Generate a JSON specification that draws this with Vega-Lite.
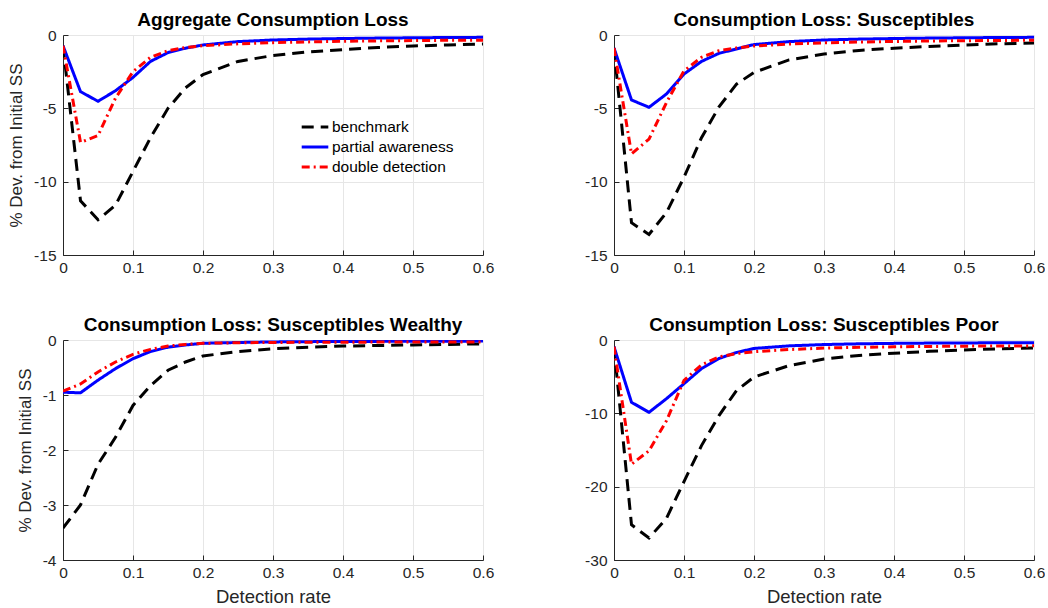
{
  "$schema": "https://vega.github.io/schema/vega-lite/v6.json",
  "padding": {"left": 7, "top": 11, "right": 0, "bottom": 0},
  "datasets": {
    "pts": [
      {"panel": "A", "series": "benchmark", "x": 0, "y": -0.73},
      {"panel": "A", "series": "benchmark", "x": 0.025, "y": -11.3},
      {"panel": "A", "series": "benchmark", "x": 0.05, "y": -12.6},
      {"panel": "A", "series": "benchmark", "x": 0.075, "y": -11.6},
      {"panel": "A", "series": "benchmark", "x": 0.1, "y": -9.3},
      {"panel": "A", "series": "benchmark", "x": 0.125, "y": -7.0},
      {"panel": "A", "series": "benchmark", "x": 0.15, "y": -5.0},
      {"panel": "A", "series": "benchmark", "x": 0.175, "y": -3.6},
      {"panel": "A", "series": "benchmark", "x": 0.2, "y": -2.7},
      {"panel": "A", "series": "benchmark", "x": 0.25, "y": -1.8},
      {"panel": "A", "series": "benchmark", "x": 0.3, "y": -1.4},
      {"panel": "A", "series": "benchmark", "x": 0.35, "y": -1.15},
      {"panel": "A", "series": "benchmark", "x": 0.4, "y": -1.0},
      {"panel": "A", "series": "benchmark", "x": 0.45, "y": -0.85},
      {"panel": "A", "series": "benchmark", "x": 0.5, "y": -0.75},
      {"panel": "A", "series": "benchmark", "x": 0.55, "y": -0.68},
      {"panel": "A", "series": "benchmark", "x": 0.6, "y": -0.62},
      {"panel": "A", "series": "partial awareness", "x": 0, "y": -0.73},
      {"panel": "A", "series": "partial awareness", "x": 0.025, "y": -3.86},
      {"panel": "A", "series": "partial awareness", "x": 0.05, "y": -4.52},
      {"panel": "A", "series": "partial awareness", "x": 0.075, "y": -3.8},
      {"panel": "A", "series": "partial awareness", "x": 0.1, "y": -2.89},
      {"panel": "A", "series": "partial awareness", "x": 0.125, "y": -1.8},
      {"panel": "A", "series": "partial awareness", "x": 0.15, "y": -1.2},
      {"panel": "A", "series": "partial awareness", "x": 0.175, "y": -0.9},
      {"panel": "A", "series": "partial awareness", "x": 0.2, "y": -0.68},
      {"panel": "A", "series": "partial awareness", "x": 0.25, "y": -0.45},
      {"panel": "A", "series": "partial awareness", "x": 0.3, "y": -0.34},
      {"panel": "A", "series": "partial awareness", "x": 0.35, "y": -0.28},
      {"panel": "A", "series": "partial awareness", "x": 0.4, "y": -0.24},
      {"panel": "A", "series": "partial awareness", "x": 0.45, "y": -0.21},
      {"panel": "A", "series": "partial awareness", "x": 0.5, "y": -0.19},
      {"panel": "A", "series": "partial awareness", "x": 0.55, "y": -0.17},
      {"panel": "A", "series": "partial awareness", "x": 0.6, "y": -0.16},
      {"panel": "A", "series": "double detection", "x": 0, "y": -0.73},
      {"panel": "A", "series": "double detection", "x": 0.025, "y": -7.32},
      {"panel": "A", "series": "double detection", "x": 0.05, "y": -6.86},
      {"panel": "A", "series": "double detection", "x": 0.075, "y": -4.3},
      {"panel": "A", "series": "double detection", "x": 0.1, "y": -2.5},
      {"panel": "A", "series": "double detection", "x": 0.125, "y": -1.52},
      {"panel": "A", "series": "double detection", "x": 0.15, "y": -1.07},
      {"panel": "A", "series": "double detection", "x": 0.175, "y": -0.85},
      {"panel": "A", "series": "double detection", "x": 0.2, "y": -0.73},
      {"panel": "A", "series": "double detection", "x": 0.25, "y": -0.6},
      {"panel": "A", "series": "double detection", "x": 0.3, "y": -0.52},
      {"panel": "A", "series": "double detection", "x": 0.35, "y": -0.47},
      {"panel": "A", "series": "double detection", "x": 0.4, "y": -0.43},
      {"panel": "A", "series": "double detection", "x": 0.45, "y": -0.4},
      {"panel": "A", "series": "double detection", "x": 0.5, "y": -0.38},
      {"panel": "A", "series": "double detection", "x": 0.55, "y": -0.36},
      {"panel": "A", "series": "double detection", "x": 0.6, "y": -0.35},

      {"panel": "B", "series": "benchmark", "x": 0, "y": -0.89},
      {"panel": "B", "series": "benchmark", "x": 0.025, "y": -12.8},
      {"panel": "B", "series": "benchmark", "x": 0.05, "y": -13.6},
      {"panel": "B", "series": "benchmark", "x": 0.075, "y": -12.1},
      {"panel": "B", "series": "benchmark", "x": 0.1, "y": -9.7},
      {"panel": "B", "series": "benchmark", "x": 0.125, "y": -7.0},
      {"panel": "B", "series": "benchmark", "x": 0.15, "y": -4.9},
      {"panel": "B", "series": "benchmark", "x": 0.175, "y": -3.35},
      {"panel": "B", "series": "benchmark", "x": 0.2, "y": -2.55},
      {"panel": "B", "series": "benchmark", "x": 0.25, "y": -1.7},
      {"panel": "B", "series": "benchmark", "x": 0.3, "y": -1.3},
      {"panel": "B", "series": "benchmark", "x": 0.35, "y": -1.05},
      {"panel": "B", "series": "benchmark", "x": 0.4, "y": -0.9},
      {"panel": "B", "series": "benchmark", "x": 0.45, "y": -0.78},
      {"panel": "B", "series": "benchmark", "x": 0.5, "y": -0.68},
      {"panel": "B", "series": "benchmark", "x": 0.55, "y": -0.6},
      {"panel": "B", "series": "benchmark", "x": 0.6, "y": -0.55},
      {"panel": "B", "series": "partial awareness", "x": 0, "y": -0.89},
      {"panel": "B", "series": "partial awareness", "x": 0.025, "y": -4.43},
      {"panel": "B", "series": "partial awareness", "x": 0.05, "y": -4.93},
      {"panel": "B", "series": "partial awareness", "x": 0.075, "y": -4.02},
      {"panel": "B", "series": "partial awareness", "x": 0.1, "y": -2.66},
      {"panel": "B", "series": "partial awareness", "x": 0.125, "y": -1.8},
      {"panel": "B", "series": "partial awareness", "x": 0.15, "y": -1.25},
      {"panel": "B", "series": "partial awareness", "x": 0.175, "y": -0.95},
      {"panel": "B", "series": "partial awareness", "x": 0.2, "y": -0.65},
      {"panel": "B", "series": "partial awareness", "x": 0.25, "y": -0.45},
      {"panel": "B", "series": "partial awareness", "x": 0.3, "y": -0.34},
      {"panel": "B", "series": "partial awareness", "x": 0.35, "y": -0.28},
      {"panel": "B", "series": "partial awareness", "x": 0.4, "y": -0.24},
      {"panel": "B", "series": "partial awareness", "x": 0.45, "y": -0.21},
      {"panel": "B", "series": "partial awareness", "x": 0.5, "y": -0.19},
      {"panel": "B", "series": "partial awareness", "x": 0.55, "y": -0.17},
      {"panel": "B", "series": "partial awareness", "x": 0.6, "y": -0.16},
      {"panel": "B", "series": "double detection", "x": 0, "y": -0.89},
      {"panel": "B", "series": "double detection", "x": 0.025, "y": -8.1},
      {"panel": "B", "series": "double detection", "x": 0.05, "y": -7.1},
      {"panel": "B", "series": "double detection", "x": 0.075, "y": -4.6},
      {"panel": "B", "series": "double detection", "x": 0.1, "y": -2.45},
      {"panel": "B", "series": "double detection", "x": 0.125, "y": -1.52},
      {"panel": "B", "series": "double detection", "x": 0.15, "y": -1.07},
      {"panel": "B", "series": "double detection", "x": 0.175, "y": -0.88},
      {"panel": "B", "series": "double detection", "x": 0.2, "y": -0.75},
      {"panel": "B", "series": "double detection", "x": 0.25, "y": -0.62},
      {"panel": "B", "series": "double detection", "x": 0.3, "y": -0.53},
      {"panel": "B", "series": "double detection", "x": 0.35, "y": -0.48},
      {"panel": "B", "series": "double detection", "x": 0.4, "y": -0.44},
      {"panel": "B", "series": "double detection", "x": 0.45, "y": -0.41},
      {"panel": "B", "series": "double detection", "x": 0.5, "y": -0.39},
      {"panel": "B", "series": "double detection", "x": 0.55, "y": -0.37},
      {"panel": "B", "series": "double detection", "x": 0.6, "y": -0.36},

      {"panel": "C", "series": "benchmark", "x": 0, "y": -3.42},
      {"panel": "C", "series": "benchmark", "x": 0.025, "y": -3.0},
      {"panel": "C", "series": "benchmark", "x": 0.05, "y": -2.26},
      {"panel": "C", "series": "benchmark", "x": 0.075, "y": -1.77},
      {"panel": "C", "series": "benchmark", "x": 0.1, "y": -1.19},
      {"panel": "C", "series": "benchmark", "x": 0.125, "y": -0.83},
      {"panel": "C", "series": "benchmark", "x": 0.15, "y": -0.55},
      {"panel": "C", "series": "benchmark", "x": 0.175, "y": -0.4},
      {"panel": "C", "series": "benchmark", "x": 0.2, "y": -0.29},
      {"panel": "C", "series": "benchmark", "x": 0.25, "y": -0.21},
      {"panel": "C", "series": "benchmark", "x": 0.3, "y": -0.16},
      {"panel": "C", "series": "benchmark", "x": 0.35, "y": -0.13},
      {"panel": "C", "series": "benchmark", "x": 0.4, "y": -0.11},
      {"panel": "C", "series": "benchmark", "x": 0.45, "y": -0.1},
      {"panel": "C", "series": "benchmark", "x": 0.5, "y": -0.09},
      {"panel": "C", "series": "benchmark", "x": 0.55, "y": -0.08},
      {"panel": "C", "series": "benchmark", "x": 0.6, "y": -0.07},
      {"panel": "C", "series": "partial awareness", "x": 0, "y": -0.95},
      {"panel": "C", "series": "partial awareness", "x": 0.025, "y": -0.96},
      {"panel": "C", "series": "partial awareness", "x": 0.05, "y": -0.73},
      {"panel": "C", "series": "partial awareness", "x": 0.075, "y": -0.52},
      {"panel": "C", "series": "partial awareness", "x": 0.1, "y": -0.34},
      {"panel": "C", "series": "partial awareness", "x": 0.125, "y": -0.21},
      {"panel": "C", "series": "partial awareness", "x": 0.15, "y": -0.13},
      {"panel": "C", "series": "partial awareness", "x": 0.175, "y": -0.09},
      {"panel": "C", "series": "partial awareness", "x": 0.2, "y": -0.06},
      {"panel": "C", "series": "partial awareness", "x": 0.25, "y": -0.045},
      {"panel": "C", "series": "partial awareness", "x": 0.3, "y": -0.035},
      {"panel": "C", "series": "partial awareness", "x": 0.35, "y": -0.03},
      {"panel": "C", "series": "partial awareness", "x": 0.4, "y": -0.027},
      {"panel": "C", "series": "partial awareness", "x": 0.45, "y": -0.025},
      {"panel": "C", "series": "partial awareness", "x": 0.5, "y": -0.023},
      {"panel": "C", "series": "partial awareness", "x": 0.55, "y": -0.022},
      {"panel": "C", "series": "partial awareness", "x": 0.6, "y": -0.02},
      {"panel": "C", "series": "double detection", "x": 0, "y": -0.93},
      {"panel": "C", "series": "double detection", "x": 0.025, "y": -0.8},
      {"panel": "C", "series": "double detection", "x": 0.05, "y": -0.58},
      {"panel": "C", "series": "double detection", "x": 0.075, "y": -0.4},
      {"panel": "C", "series": "double detection", "x": 0.1, "y": -0.26},
      {"panel": "C", "series": "double detection", "x": 0.125, "y": -0.17},
      {"panel": "C", "series": "double detection", "x": 0.15, "y": -0.11},
      {"panel": "C", "series": "double detection", "x": 0.175, "y": -0.08},
      {"panel": "C", "series": "double detection", "x": 0.2, "y": -0.06},
      {"panel": "C", "series": "double detection", "x": 0.25, "y": -0.05},
      {"panel": "C", "series": "double detection", "x": 0.3, "y": -0.045},
      {"panel": "C", "series": "double detection", "x": 0.35, "y": -0.042},
      {"panel": "C", "series": "double detection", "x": 0.4, "y": -0.04},
      {"panel": "C", "series": "double detection", "x": 0.45, "y": -0.038},
      {"panel": "C", "series": "double detection", "x": 0.5, "y": -0.037},
      {"panel": "C", "series": "double detection", "x": 0.55, "y": -0.036},
      {"panel": "C", "series": "double detection", "x": 0.6, "y": -0.035},

      {"panel": "D", "series": "benchmark", "x": 0, "y": -0.92},
      {"panel": "D", "series": "benchmark", "x": 0.025, "y": -25.2},
      {"panel": "D", "series": "benchmark", "x": 0.05, "y": -27.0},
      {"panel": "D", "series": "benchmark", "x": 0.075, "y": -24.3},
      {"panel": "D", "series": "benchmark", "x": 0.1, "y": -19.3},
      {"panel": "D", "series": "benchmark", "x": 0.125, "y": -14.4},
      {"panel": "D", "series": "benchmark", "x": 0.15, "y": -10.3},
      {"panel": "D", "series": "benchmark", "x": 0.175, "y": -6.9},
      {"panel": "D", "series": "benchmark", "x": 0.2, "y": -5.05},
      {"panel": "D", "series": "benchmark", "x": 0.25, "y": -3.5},
      {"panel": "D", "series": "benchmark", "x": 0.3, "y": -2.6},
      {"panel": "D", "series": "benchmark", "x": 0.35, "y": -2.1},
      {"panel": "D", "series": "benchmark", "x": 0.4, "y": -1.8},
      {"panel": "D", "series": "benchmark", "x": 0.45, "y": -1.55},
      {"panel": "D", "series": "benchmark", "x": 0.5, "y": -1.35},
      {"panel": "D", "series": "benchmark", "x": 0.55, "y": -1.2},
      {"panel": "D", "series": "benchmark", "x": 0.6, "y": -1.1},
      {"panel": "D", "series": "partial awareness", "x": 0, "y": -0.92},
      {"panel": "D", "series": "partial awareness", "x": 0.025, "y": -8.5},
      {"panel": "D", "series": "partial awareness", "x": 0.05, "y": -9.86},
      {"panel": "D", "series": "partial awareness", "x": 0.075, "y": -8.0},
      {"panel": "D", "series": "partial awareness", "x": 0.1, "y": -5.96},
      {"panel": "D", "series": "partial awareness", "x": 0.125, "y": -3.9},
      {"panel": "D", "series": "partial awareness", "x": 0.15, "y": -2.52},
      {"panel": "D", "series": "partial awareness", "x": 0.175, "y": -1.7},
      {"panel": "D", "series": "partial awareness", "x": 0.2, "y": -1.15},
      {"panel": "D", "series": "partial awareness", "x": 0.25, "y": -0.8},
      {"panel": "D", "series": "partial awareness", "x": 0.3, "y": -0.62},
      {"panel": "D", "series": "partial awareness", "x": 0.35, "y": -0.52},
      {"panel": "D", "series": "partial awareness", "x": 0.4, "y": -0.46},
      {"panel": "D", "series": "partial awareness", "x": 0.45, "y": -0.42},
      {"panel": "D", "series": "partial awareness", "x": 0.5, "y": -0.4},
      {"panel": "D", "series": "partial awareness", "x": 0.55, "y": -0.38},
      {"panel": "D", "series": "partial awareness", "x": 0.6, "y": -0.37},
      {"panel": "D", "series": "double detection", "x": 0, "y": -0.92},
      {"panel": "D", "series": "double detection", "x": 0.025, "y": -16.95},
      {"panel": "D", "series": "double detection", "x": 0.05, "y": -15.1},
      {"panel": "D", "series": "double detection", "x": 0.075, "y": -11.0},
      {"panel": "D", "series": "double detection", "x": 0.1, "y": -5.5},
      {"panel": "D", "series": "double detection", "x": 0.125, "y": -3.4},
      {"panel": "D", "series": "double detection", "x": 0.15, "y": -2.29},
      {"panel": "D", "series": "double detection", "x": 0.175, "y": -1.85},
      {"panel": "D", "series": "double detection", "x": 0.2, "y": -1.6},
      {"panel": "D", "series": "double detection", "x": 0.25, "y": -1.3},
      {"panel": "D", "series": "double detection", "x": 0.3, "y": -1.1},
      {"panel": "D", "series": "double detection", "x": 0.35, "y": -1.0},
      {"panel": "D", "series": "double detection", "x": 0.4, "y": -0.93},
      {"panel": "D", "series": "double detection", "x": 0.45, "y": -0.88},
      {"panel": "D", "series": "double detection", "x": 0.5, "y": -0.84},
      {"panel": "D", "series": "double detection", "x": 0.55, "y": -0.81},
      {"panel": "D", "series": "double detection", "x": 0.6, "y": -0.8}
    ]
  },
  "data": {"name": "pts"},
  "columns": 2,
  "spacing": {"column": 90, "row": 40},
  "resolve": {"legend": {"color": "independent", "strokeDash": "independent"}},
  "concat": [
    {
      "title": "Aggregate Consumption Loss",
      "width": 420, "height": 220,
      "transform": [{"filter": "datum.panel === 'A'"}],
      "mark": {"type": "line", "strokeWidth": 3, "clip": true},
      "encoding": {
        "x": {"field": "x", "type": "quantitative", "scale": {"domain": [0, 0.6], "nice": false}, "axis": {"values": [0, 0.1, 0.2, 0.3, 0.4, 0.5, 0.6], "title": null}},
        "y": {"field": "y", "type": "quantitative", "scale": {"domain": [-15, 0], "nice": false}, "axis": {"values": [-15, -10, -5, 0], "title": "% Dev. from Initial SS"}},
        "color": {"field": "series", "type": "nominal", "sort": null,
          "scale": {"domain": ["benchmark", "partial awareness", "double detection"], "range": ["#000000", "#0000ff", "#ff0000"]},
          "legend": {"orient": "none", "legendX": 241, "legendY": 81, "title": null, "labelFontSize": 15.5, "labelColor": "#000000", "symbolType": "M-1.4,0H1.4", "symbolStrokeWidth": 3, "symbolSize": 361, "rowPadding": -2, "labelOffset": 6}},
        "strokeDash": {"field": "series", "type": "nominal", "sort": null,
          "scale": {"domain": ["benchmark", "partial awareness", "double detection"], "range": [[12, 7], [1, 0], [8, 4, 2, 4]]},
          "legend": {"orient": "none", "legendX": 241, "legendY": 81, "title": null, "labelFontSize": 15.5, "labelColor": "#000000", "symbolType": "M-1.4,0H1.4", "symbolStrokeWidth": 3, "symbolSize": 361, "rowPadding": -2, "labelOffset": 6}}
      }
    },
    {
      "title": "Consumption Loss: Susceptibles",
      "width": 420, "height": 220,
      "transform": [{"filter": "datum.panel === 'B'"}],
      "mark": {"type": "line", "strokeWidth": 3, "clip": true},
      "encoding": {
        "x": {"field": "x", "type": "quantitative", "scale": {"domain": [0, 0.6], "nice": false}, "axis": {"values": [0, 0.1, 0.2, 0.3, 0.4, 0.5, 0.6], "title": null}},
        "y": {"field": "y", "type": "quantitative", "scale": {"domain": [-15, 0], "nice": false}, "axis": {"values": [-15, -10, -5, 0], "title": null}},
        "color": {"field": "series", "type": "nominal", "sort": null,
          "scale": {"domain": ["benchmark", "partial awareness", "double detection"], "range": ["#000000", "#0000ff", "#ff0000"]}, "legend": null},
        "strokeDash": {"field": "series", "type": "nominal", "sort": null,
          "scale": {"domain": ["benchmark", "partial awareness", "double detection"], "range": [[12, 7], [1, 0], [8, 4, 2, 4]]}, "legend": null}
      }
    },
    {
      "title": "Consumption Loss: Susceptibles Wealthy",
      "width": 420, "height": 220,
      "transform": [{"filter": "datum.panel === 'C'"}],
      "mark": {"type": "line", "strokeWidth": 3, "clip": true},
      "encoding": {
        "x": {"field": "x", "type": "quantitative", "scale": {"domain": [0, 0.6], "nice": false}, "axis": {"values": [0, 0.1, 0.2, 0.3, 0.4, 0.5, 0.6], "title": "Detection rate"}},
        "y": {"field": "y", "type": "quantitative", "scale": {"domain": [-4, 0], "nice": false}, "axis": {"values": [-4, -3, -2, -1, 0], "title": "% Dev. from Initial SS"}},
        "color": {"field": "series", "type": "nominal", "sort": null,
          "scale": {"domain": ["benchmark", "partial awareness", "double detection"], "range": ["#000000", "#0000ff", "#ff0000"]}, "legend": null},
        "strokeDash": {"field": "series", "type": "nominal", "sort": null,
          "scale": {"domain": ["benchmark", "partial awareness", "double detection"], "range": [[12, 7], [1, 0], [8, 4, 2, 4]]}, "legend": null}
      }
    },
    {
      "title": "Consumption Loss: Susceptibles Poor",
      "width": 420, "height": 220,
      "transform": [{"filter": "datum.panel === 'D'"}],
      "mark": {"type": "line", "strokeWidth": 3, "clip": true},
      "encoding": {
        "x": {"field": "x", "type": "quantitative", "scale": {"domain": [0, 0.6], "nice": false}, "axis": {"values": [0, 0.1, 0.2, 0.3, 0.4, 0.5, 0.6], "title": "Detection rate"}},
        "y": {"field": "y", "type": "quantitative", "scale": {"domain": [-30, 0], "nice": false}, "axis": {"values": [-30, -20, -10, 0], "title": null}},
        "color": {"field": "series", "type": "nominal", "sort": null,
          "scale": {"domain": ["benchmark", "partial awareness", "double detection"], "range": ["#000000", "#0000ff", "#ff0000"]}, "legend": null},
        "strokeDash": {"field": "series", "type": "nominal", "sort": null,
          "scale": {"domain": ["benchmark", "partial awareness", "double detection"], "range": [[12, 7], [1, 0], [8, 4, 2, 4]]}, "legend": null}
      }
    }
  ],
  "config": {
    "font": "Liberation Sans",
    "view": {"stroke": null},
    "axis": {
      "grid": true, "gridColor": "#e6e6e6", "gridWidth": 1,
      "domainColor": "#262626", "domainWidth": 1,
      "tickColor": "#262626", "tickSize": -5,
      "labelColor": "#262626", "labelFontSize": 15.5, "labelExpr": "'' + datum.value",
      "labelFlush": false, "labelOverlap": false,
      "titleFontWeight": "normal", "titleColor": "#262626"
    },
    "axisY": {"titlePadding": 8, "labelPadding": 12, "titleFontSize": 17},
    "axisX": {"titlePadding": 6.5, "labelPadding": 10, "titleFontSize": 18.5},
    "title": {"fontSize": 19, "fontWeight": "bold", "color": "#000000", "offset": -2}
  }
}
